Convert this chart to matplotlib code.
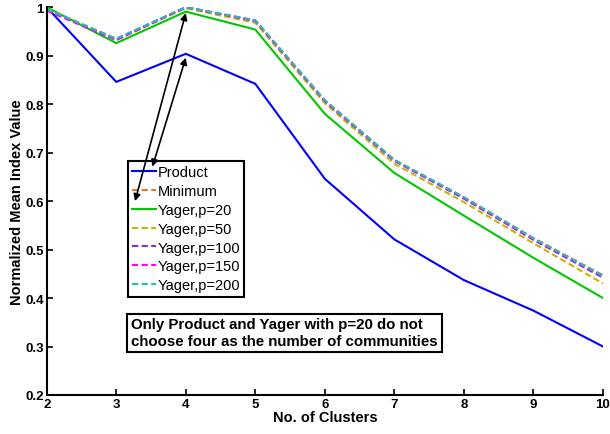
import matplotlib
matplotlib.use('Agg')
import matplotlib.pyplot as plt

plt.rcParams['font.family'] = ['Liberation Sans', 'DejaVu Sans']

# numero de clusters testados
clusters = [2, 3, 4, 5, 6, 7, 8, 9, 10]

# indice medio normalizado por operador de agregacao
product = [1.000, 0.846, 0.904, 0.842, 0.646, 0.521, 0.437, 0.374, 0.300]
minimum = [0.997, 0.935, 1.000, 0.973, 0.808, 0.685, 0.608, 0.524, 0.447]
yager20 = [1.000, 0.926, 0.991, 0.954, 0.780, 0.658, 0.570, 0.483, 0.400]
yager50 = [0.997, 0.933, 0.998, 0.968, 0.802, 0.677, 0.598, 0.513, 0.430]
yager100 = [0.995, 0.934, 1.000, 0.972, 0.806, 0.683, 0.605, 0.520, 0.442]
yager150 = [0.993, 0.932, 1.000, 0.972, 0.807, 0.684, 0.607, 0.522, 0.445]
yager200 = [0.996, 0.935, 1.000, 0.973, 0.808, 0.685, 0.608, 0.523, 0.446]

yticks = [0.2, 0.3, 0.4, 0.5, 0.6, 0.7, 0.8, 0.9, 1.0]
ytick_labels = ['0.2', '0.3', '0.4', '0.5', '0.6', '0.7', '0.8', '0.9', '1']

fig = plt.figure(figsize=(6.1, 4.35), dpi=100)
ax = fig.add_axes([0.0766, 0.0897, 0.9119, 0.8913])

lw = 1.5
dash = (0, (3, 1.6))
ax.plot(clusters, product, color='#0000ff', lw=lw, label='Product')
ax.plot(clusters, minimum, color='#e07b2a', lw=lw, ls=dash, label='Minimum')
ax.plot(clusters, yager20, color='#00c800', lw=lw, label='Yager,p=20')
ax.plot(clusters, yager50, color='#c8b400', lw=lw, ls=dash, label='Yager,p=50')
ax.plot(clusters, yager100, color='#8a2be2', lw=lw, ls=dash, label='Yager,p=100')
ax.plot(clusters, yager150, color='#ff00ff', lw=lw, ls=dash, label='Yager,p=150')
ax.plot(clusters, yager200, color='#1fbfbf', lw=lw, ls=dash, label='Yager,p=200')

ax.set_xlim(2, 10)
ax.set_ylim(0.2, 1.0)
ax.set_xticks(clusters)
ax.set_yticks(yticks)
ax.set_yticklabels(ytick_labels)

for s in ['top', 'right']:
    ax.spines[s].set_visible(False)
for s in ['left', 'bottom']:
    ax.spines[s].set_linewidth(1.5)
ax.tick_params(direction='in', length=4, width=1.2, labelsize=9.5, pad=2)
for lab in ax.get_xticklabels() + ax.get_yticklabels():
    lab.set_fontweight('bold')

ax.set_xlabel('No. of Clusters', fontsize=10.5, fontweight='bold', labelpad=0)
ax.set_ylabel('Normalized Mean Index Value', fontsize=10.5, fontweight='bold', labelpad=1)

leg = ax.legend(loc='upper left', bbox_to_anchor=(0.1463, 0.6036), fontsize=10.5,
                frameon=True, fancybox=False, framealpha=1, edgecolor='black',
                handlelength=1.6, handletextpad=0.1, labelspacing=0.33,
                borderpad=0.3, borderaxespad=0)
leg.get_frame().set_linewidth(1.5)

# setas duplas apontando para o pico em 4 clusters (por cima da legenda)
ax.annotate('', xy=(4.0, minimum[2] - 0.012), xytext=(3.27, 0.60),
            arrowprops=dict(arrowstyle='<|-|>', color='black', lw=1.2,
                            mutation_scale=10, shrinkA=0, shrinkB=0), zorder=6)
ax.annotate('', xy=(4.0, product[2] - 0.008), xytext=(3.52, 0.671),
            arrowprops=dict(arrowstyle='<|-|>', color='black', lw=1.2,
                            mutation_scale=10, shrinkA=0, shrinkB=0), zorder=6)

ax.text(3.215, 0.3284, 'Only Product and Yager with p=20 do not\nchoose four as the number of communities',
        fontsize=10.8, fontweight='bold', ha='left', va='center', linespacing=1.25,
        bbox=dict(boxstyle='square,pad=0.25', facecolor='white', edgecolor='black', lw=1.5))

plt.savefig('out.png', dpi=100)
